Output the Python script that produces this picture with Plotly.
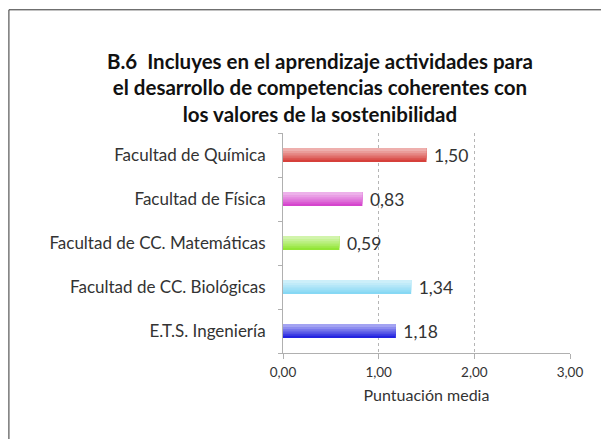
import plotly.graph_objects as go

categories = ["E.T.S. Ingeniería", "Facultad de CC. Biológicas", "Facultad de CC. Matemáticas",
              "Facultad de Física", "Facultad de Química"]
values = [1.18, 1.34, 0.59, 0.83, 1.50]
colors = ["#2424e0", "#86d8f4", "#92e636", "#d545cd", "#d6403b"]
tick_vals = [0, 1, 2, 3]

FONT = "Lato"


def blend(hex_color, t):
    h = hex_color.lstrip("#")
    r, g, b = int(h[0:2], 16), int(h[2:4], 16), int(h[4:6], 16)
    r = round(r + (255 - r) * t)
    g = round(g + (255 - g) * t)
    b = round(b + (255 - b) * t)
    return f"rgb({r},{g},{b})"


fig = go.Figure()
# base bar (full colour) carries the data label
fig.add_trace(go.Bar(
    y=categories, x=values, orientation="h",
    marker=dict(color=colors, line=dict(width=0)),
    width=0.32, offset=-0.16,
    texttemplate="\u00a0%{x:.2f}", textposition="outside",
    constraintext="none",
    textfont=dict(family=FONT, size=17.5, color="#333333"),
    cliponaxis=False, showlegend=False, hoverinfo="skip",
))
# lighter stripes toward the top to imitate the gradient fill
for off, w, t in [(-0.11, 0.27, 0.12), (-0.06, 0.22, 0.24), (-0.01, 0.17, 0.36),
                  (0.04, 0.12, 0.48), (0.09, 0.07, 0.58)]:
    fig.add_trace(go.Bar(
        y=categories, x=values, orientation="h",
        marker=dict(color=[blend(c, t) for c in colors], line=dict(width=0)),
        width=w, offset=off,
        showlegend=False, hoverinfo="skip",
    ))

fig.update_layout(
    width=601, height=431,
    barmode="overlay",
    separators=",.",
    paper_bgcolor="white", plot_bgcolor="white",
    margin=dict(l=275, r=39, t=125, b=86),
    font=dict(family=FONT, color="#333333"),
    title=dict(
        text="B.6  Incluyes en el aprendizaje actividades para<br>el desarrollo de competencias coherentes con<br>los valores de la sostenibilidad",
        x=0.519, xanchor="center", y=0.859, yanchor="top",
        font=dict(family=FONT, size=20.5, color="#111111", weight="bold"),
    ),
    xaxis=dict(
        range=[0, 3], tickvals=tick_vals, tickformat=".2f",
        showgrid=True, gridcolor="#b5b5b5", griddash="dot", gridwidth=1,
        showline=True, linecolor="#b0b0b0", linewidth=1,
        ticks="outside", ticklen=5, tickcolor="#b0b0b0",
        ticklabelstandoff=2,
        tickfont=dict(family=FONT, size=13.5, color="#333333"),
        title=dict(text="Puntuación media", font=dict(family=FONT, size=16, color="#333333"), standoff=10),
        zeroline=False, fixedrange=True,
    ),
    yaxis=dict(
        categoryorder="array", categoryarray=categories,
        showline=True, linecolor="#b0b0b0", linewidth=1,
        ticks="outside", ticklen=4, tickcolor="#b0b0b0", tickson="boundaries",
        tickfont=dict(family=FONT, size=17, color="#333333"),
        ticklabelstandoff=13,
        showgrid=False, fixedrange=True,
    ),
    shapes=[dict(
        type="rect", xref="paper", yref="paper",
        x0=-0.955, x1=1.3, y0=-1.0, y1=1.56,
        line=dict(color="#333333", width=1), fillcolor="rgba(0,0,0,0)", layer="below",
    )],
)

fig.write_html("out.html")
